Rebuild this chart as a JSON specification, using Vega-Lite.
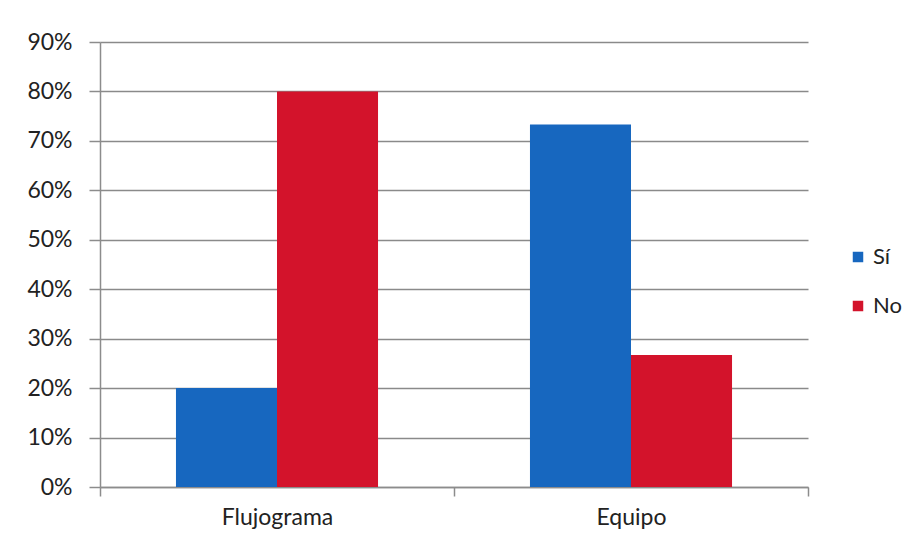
{
  "$schema": "https://vega.github.io/schema/vega-lite/v6.json",
  "autosize": {"type": "none"},
  "width": 708,
  "height": 445,
  "padding": {"left": 100, "top": 42, "right": 109, "bottom": 59},
  "background": "white",
  "data": {"values": [
    {"categoria": "Flujograma", "respuesta": "Sí", "valor": 0.20},
    {"categoria": "Flujograma", "respuesta": "No", "valor": 0.80},
    {"categoria": "Equipo", "respuesta": "Sí", "valor": 0.733},
    {"categoria": "Equipo", "respuesta": "No", "valor": 0.267}
  ]},
  "mark": {"type": "bar"},
  "encoding": {
    "x": {
      "field": "categoria", "type": "nominal", "sort": ["Flujograma", "Equipo"],
      "scale": {"paddingInner": 0, "paddingOuter": 0},
      "axis": {"title": null, "labelAngle": 0, "labelFontSize": 23, "labelFont": "Lato", "labelColor": "#222",
               "domainColor": "#8c8c8c", "domainWidth": 1.5, "tickColor": "#8c8c8c", "tickSize": 9, "tickWidth": 1.5,
               "tickBand": "extent", "labelPadding": 10}
    },
    "xOffset": {"field": "respuesta", "type": "nominal", "sort": ["Sí", "No"],
                "scale": {"paddingInner": 0, "paddingOuter": 0.752}},
    "y": {
      "field": "valor", "type": "quantitative",
      "scale": {"domain": [0, 0.9], "nice": false},
      "axis": {"title": null, "format": ".0%", "values": [0, 0.1, 0.2, 0.3, 0.4, 0.5, 0.6, 0.7, 0.8, 0.9],
               "labelFontSize": 23, "labelFont": "Lato", "labelColor": "#222",
               "grid": true, "gridColor": "#8a8a8a", "gridWidth": 1.5,
               "domainColor": "#8c8c8c", "domainWidth": 1.5, "tickColor": "#8c8c8c", "tickSize": 11, "tickWidth": 1.5,
               "labelPadding": 17}
    },
    "color": {
      "field": "respuesta", "type": "nominal",
      "scale": {"domain": ["Sí", "No"], "range": ["#1767BF", "#D3132B"]},
      "legend": {"title": null, "orient": "none", "legendX": 747, "legendY": 204,
                 "symbolType": "square", "symbolSize": 110, "labelFontSize": 22, "labelFont": "Lato", "labelColor": "#222",
                 "rowPadding": 27, "symbolStrokeWidth": 0, "labelOffset": 4}
    }
  },
  "config": {"view": {"stroke": null}}
}
